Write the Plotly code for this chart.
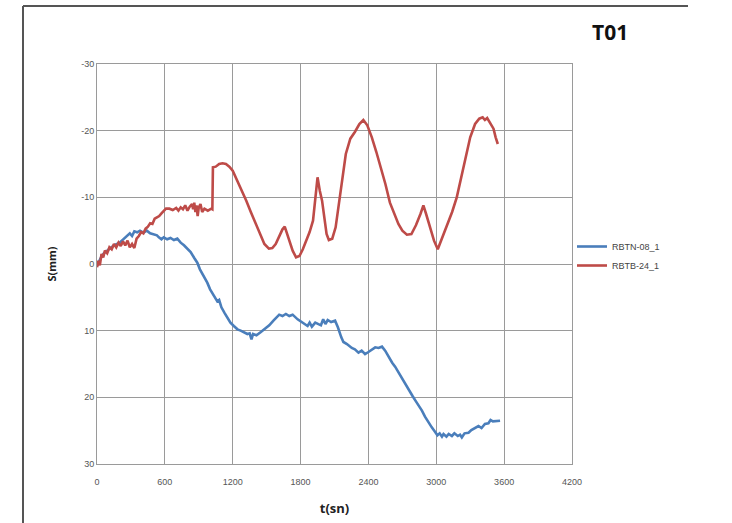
import plotly.graph_objects as go

# RBTN-08_1 (blue)
blue_t = [0,30,60,100,150,200,240,266,290,310,330,355,380,410,440,470,500,530,547,570,590,620,650,680,710,740,769,800,828,860,887,910,940,975,1000,1030,1064,1080,1100,1130,1153,1180,1210,1242,1270,1301,1330,1350,1366,1380,1410,1449,1480,1523,1560,1590,1611,1640,1670,1700,1730,1774,1800,1830,1862,1880,1900,1930,1951,1980,2000,2020,2040,2070,2105,2130,2160,2179,2210,2253,2280,2312,2340,2370,2400,2430,2460,2489,2520,2548,2580,2610,2636,2670,2700,2730,2754,2790,2820,2850,2873,2900,2930,2960,2990,3010,3030,3050,3064,3090,3110,3138,3160,3190,3210,3226,3250,3285,3310,3340,3373,3400,3430,3461,3480,3500,3530,3564]
blue_s = [0.3,-0.8,-1.6,-2.2,-2.8,-3.2,-3.8,-4.3,-4.6,-4.2,-4.9,-4.75,-5.0,-4.7,-5.0,-4.6,-4.4,-4.3,-4.0,-3.7,-4.0,-3.7,-3.9,-3.6,-3.8,-3.2,-2.8,-2.2,-1.8,-0.9,-0.2,0.8,1.7,2.8,3.8,4.6,5.6,5.4,6.5,7.4,8.0,8.8,9.3,9.8,10.0,10.3,10.5,10.4,11.3,10.5,10.7,10.2,9.8,9.2,8.5,8.0,7.6,7.8,7.5,7.8,7.6,8.3,8.6,8.9,9.3,8.8,9.4,8.8,9.0,9.2,8.3,9.0,8.4,8.7,8.5,9.5,11.0,11.7,12.0,12.6,12.8,13.3,13.0,13.5,13.2,12.8,12.5,12.6,12.4,13.0,14.0,14.8,15.4,16.4,17.2,18.2,18.7,19.8,20.6,21.3,22.0,22.9,23.8,24.5,25.2,25.7,25.4,25.9,25.5,25.9,25.5,25.8,25.4,25.8,25.6,26.0,25.4,25.3,24.9,24.6,24.3,24.6,24.0,23.9,23.4,23.6,23.5,23.5]

# RBTB-24_1 (red)
red_t = [0,10,25,40,55,70,90,110,130,150,170,190,210,230,250,270,290,310,330,350,370,390,410,430,450,470,490,510,530,550,570,590,610,640,670,700,720,740,760,780,800,820,840,850,860,870,880,890,900,915,930,950,980,1010,1020,1025,1050,1080,1110,1140,1170,1200,1240,1280,1320,1360,1400,1440,1480,1520,1550,1580,1610,1640,1660,1680,1700,1730,1760,1790,1820,1850,1880,1910,1930,1950,1970,1990,2010,2030,2050,2080,2110,2140,2170,2200,2240,2280,2320,2355,2390,2430,2470,2510,2550,2590,2630,2665,2700,2740,2780,2820,2860,2886,2910,2945,2980,3013,3050,3093,3140,3181,3220,3255,3300,3343,3380,3410,3430,3450,3470,3506,3525,3544]
red_s = [0.5,-0.5,0.2,-1.5,-1.0,-2.0,-1.6,-2.5,-2.2,-3.0,-2.5,-3.2,-2.7,-3.4,-2.8,-3.5,-2.5,-3.0,-2.4,-3.8,-4.2,-4.8,-4.6,-5.3,-5.6,-6.1,-6.0,-6.8,-7.0,-7.2,-7.6,-8.0,-8.3,-8.3,-8.1,-8.4,-8.0,-8.5,-8.2,-8.8,-8.0,-8.6,-9.0,-8.2,-9.2,-7.8,-8.8,-7.2,-8.5,-9.0,-7.8,-8.3,-8.0,-8.3,-8.2,-14.5,-14.6,-15.0,-15.1,-15.0,-14.6,-14.0,-12.5,-11.2,-9.5,-7.8,-6.2,-4.5,-3.0,-2.3,-2.4,-3.0,-4.2,-5.2,-5.6,-4.5,-3.5,-2.0,-1.0,-1.2,-2.2,-3.5,-4.8,-6.5,-9.5,-13.0,-11.0,-9.5,-7.0,-4.5,-3.6,-3.8,-5.5,-9.0,-13.0,-16.5,-18.8,-19.8,-21.0,-21.6,-20.8,-19.0,-16.8,-14.5,-12.0,-9.2,-7.5,-6.0,-5.0,-4.4,-4.5,-5.8,-7.5,-8.8,-7.5,-5.5,-3.5,-2.2,-3.8,-5.5,-7.8,-10.0,-13.0,-16.0,-19.0,-21.0,-21.8,-22.0,-21.6,-21.9,-21.3,-20.3,-19.0,-18.0]

x_ticks = [0, 600, 1200, 1800, 2400, 3000, 3600, 4200]
y_ticks = [-30, -20, -10, 0, 10, 20, 30]
y_tick_text = ["-30", "-20", "-10", "0", "10", "20", "30"]

W, H = 732, 523
L, R, T, B = 97, 160, 64, 59
PW, PH = W - L - R, H - T - B


def px(x):
    return (x - L) / PW


def py(y):
    return (H - B - y) / PH


fig = go.Figure()
fig.add_trace(go.Scatter(x=blue_t, y=blue_s, mode="lines", name="RBTN-08_1",
                         line=dict(color="#4a7ebb", width=2.6)))
fig.add_trace(go.Scatter(x=red_t, y=red_s, mode="lines", name="RBTB-24_1",
                         line=dict(color="#be4b48", width=2.6)))

tickfont = dict(family="Liberation Sans, Arial", size=9, color="#555555")
fig.update_layout(
    width=W, height=H,
    margin=dict(l=L, r=R, t=T, b=B),
    paper_bgcolor="white", plot_bgcolor="white",
    showlegend=True,
    legend=dict(x=1.0, y=0.52, xanchor="left", yanchor="middle",
                font=dict(family="Liberation Sans, Arial", size=9, color="#444444"),
                bgcolor="rgba(0,0,0,0)", tracegroupgap=4, itemwidth=30),
    xaxis=dict(range=[0, 4200], tickvals=x_ticks, showgrid=True, gridcolor="#9a9a9a",
               gridwidth=1, zeroline=False, showline=True, linecolor="#9a9a9a",
               mirror=True, tickfont=tickfont, ticks="outside", ticklen=9,
               tickcolor="rgba(0,0,0,0)", automargin=False,
               title=dict(text="<b>t(sn)</b>", font=dict(family="Open Sans, Arial", size=13, color="#222222"),
                          standoff=18)),
    yaxis=dict(range=[30, -30], tickvals=y_ticks, ticktext=y_tick_text, showgrid=True,
               gridcolor="#9a9a9a", gridwidth=1, zeroline=False, showline=True,
               linecolor="#9a9a9a", mirror=True, tickfont=tickfont, ticks="", automargin=False,
               title=dict(text="<b>S(mm)</b>", font=dict(family="Open Sans, Arial", size=11, color="#222222"),
                          standoff=22)),
    annotations=[dict(text="<b>T01</b>", x=px(610), y=py(32), xref="paper", yref="paper",
                      xanchor="center", yanchor="middle", showarrow=False,
                      font=dict(family="Open Sans, Arial", size=21, color="#111111"))],
    shapes=[
        dict(type="line", xref="paper", yref="paper", x0=px(23), x1=px(688), y0=py(6), y1=py(6),
             line=dict(color="#555555", width=2)),
        dict(type="line", xref="paper", yref="paper", x0=px(23), x1=px(23), y0=py(6), y1=py(H),
             line=dict(color="#555555", width=2)),
    ],
)

fig.write_html("out.html")
